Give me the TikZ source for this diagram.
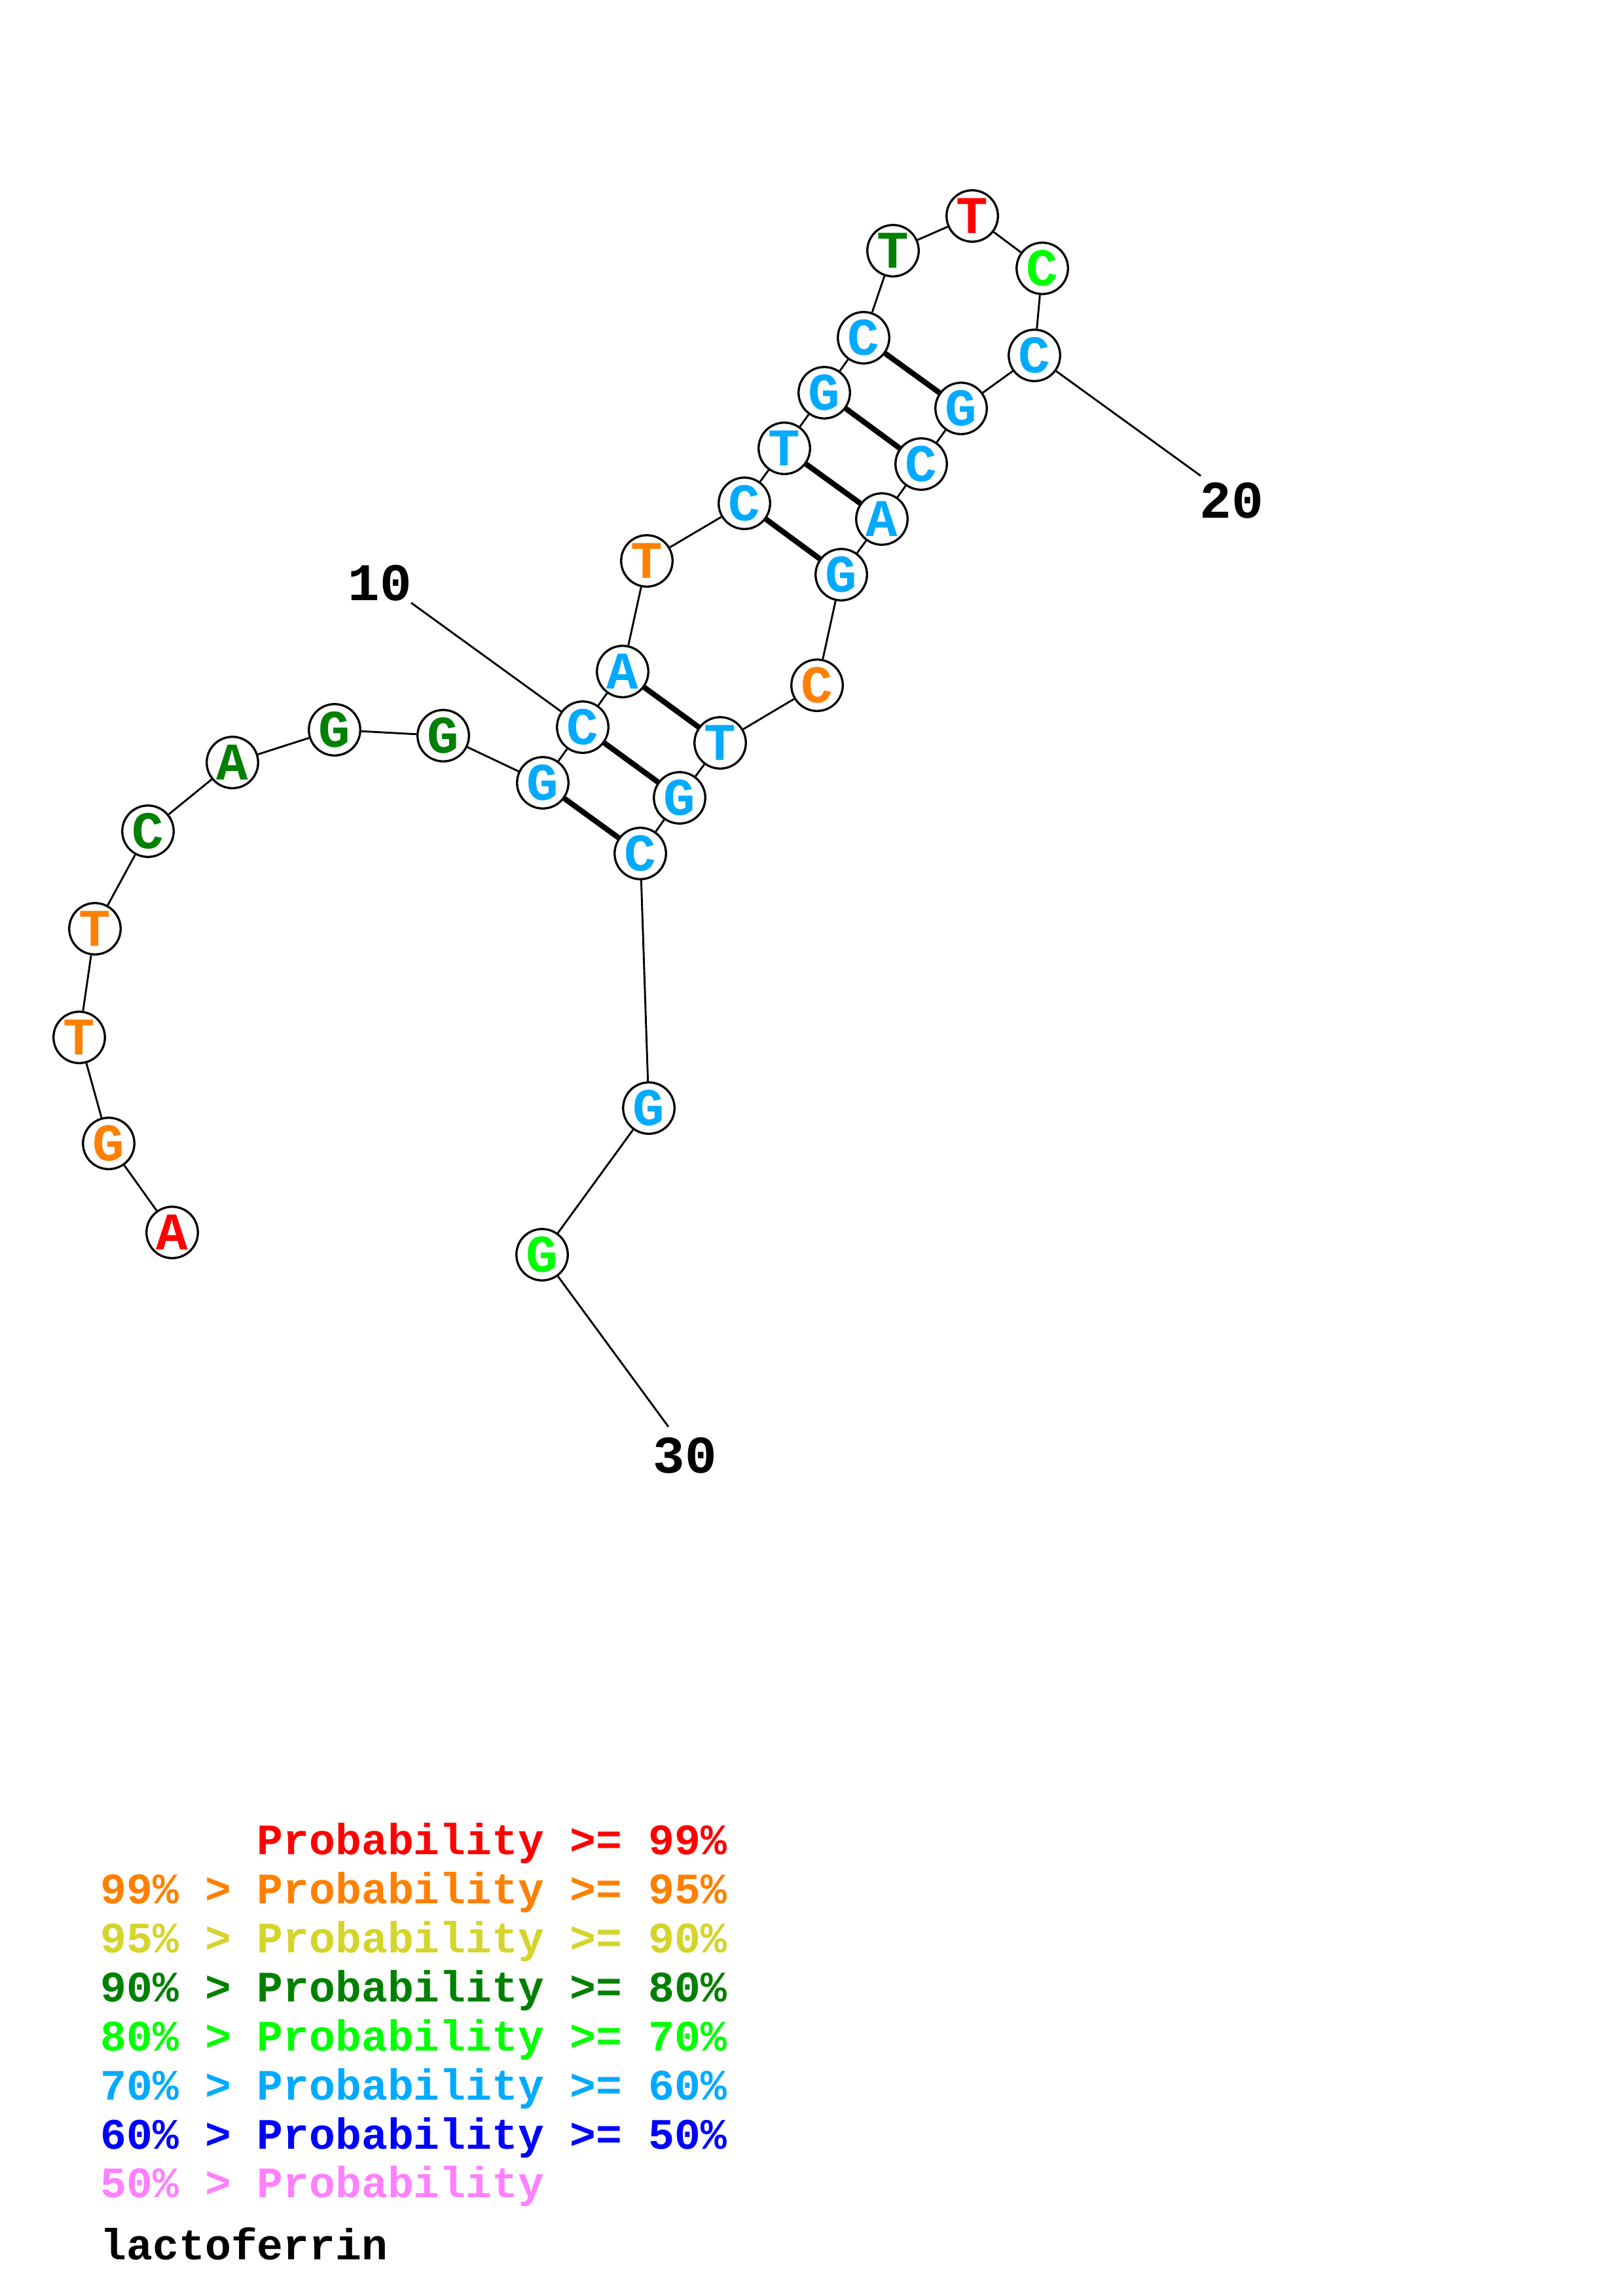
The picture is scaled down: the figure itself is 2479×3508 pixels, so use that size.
\documentclass[tikz,border=0pt]{standalone}
\usepackage{fontspec}
\newfontfamily\cour{Liberation Mono}[WordSpace={1,0,0}]
\definecolor{cred}{RGB}{255,0,0}
\definecolor{corange}{RGB}{255,128,0}
\definecolor{cyellow}{RGB}{212,212,42}
\definecolor{cdkgreen}{RGB}{0,128,0}
\definecolor{cgreen}{RGB}{0,255,0}
\definecolor{clblue}{RGB}{0,170,255}
\definecolor{cblue}{RGB}{0,0,255}
\definecolor{cpink}{RGB}{255,128,255}
\begin{document}
\begin{tikzpicture}[x=0.0847mm,y=-0.0847mm,
  base/.style={circle,draw=black,line width=0.8pt,fill=white,minimum size=6.65mm,inner sep=0pt,
    font=\cour\bfseries\fontsize{19.5}{20}\selectfont},
  bb/.style={line width=0.7pt,black},
  pairline/.style={line width=2pt,black},
  lab/.style={inner sep=0pt,font=\cour\bfseries\fontsize{19.5}{20}\selectfont},
  leg/.style={anchor=base west,inner sep=0pt,font=\cour\bfseries\fontsize{16}{17}\selectfont}]
\useasboundingbox (0,0) rectangle (2479,3508);
\fill[white] (0,0) rectangle (2479,3508);
% nucleotides
\foreach \n/\x/\y/\l/\c in {
  1/263/1883/A/cred, 2/166/1747/G/corange, 3/121/1585/T/corange, 4/145/1419/T/corange,
  5/226/1270/C/cdkgreen, 6/355/1165/A/cdkgreen, 7/511/1115/G/cdkgreen, 8/677/1124/G/cdkgreen,
  9/829/1196/G/clblue, 10/890/1111/C/clblue, 11/951/1026/A/clblue, 12/988/857/T/corange,
  13/1137/769/C/clblue, 14/1198/685/T/clblue, 15/1259/600/G/clblue, 16/1319/516/C/clblue,
  17/1364/383/T/cdkgreen, 18/1485/330/T/cred, 19/1592/410/C/cgreen, 20/1580/543/C/clblue,
  21/1468/624/G/clblue, 22/1407/709/C/clblue, 23/1347/793/A/clblue, 24/1285/878/G/clblue,
  25/1248/1047/C/corange, 26/1100/1135/T/clblue, 27/1038/1219/G/clblue, 28/978/1304/C/clblue,
  29/991/1693/G/clblue, 30/828/1917/G/cgreen}
  {\node[base,text=\c] (n\n) at (\x,\y) {\l};}
% backbone
\foreach \a in {1,...,29}{
  \pgfmathtruncatemacro\b{\a+1}
  \draw[bb] (n\a) -- (n\b);}
% base pairs
\foreach \a/\b in {16/21,15/22,14/23,13/24,11/26,10/27,9/28}
  \draw[pairline] (n\a) -- (n\b);
% position labels
\node[lab] (l10) at (580,891) {10};
\coordinate (e10) at (628,921);
\draw[bb] (e10) -- (n10);
\node[lab] (l20) at (1881,765) {20};
\coordinate (e20) at (1834,727);
\draw[bb] (n20) -- (e20);
\node[lab] (l30) at (1046,2224) {30};
\coordinate (e30) at (1021,2180);
\draw[bb] (n30) -- (e30);
% legend
\node[leg,text=cred] (r1) at (153,2833) {\phantom{99\% > }Probability >= 99\%};
\node[leg,text=corange] (r2) at (153,2908) {99\% > Probability >= 95\%};
\node[leg,text=cyellow] (r3) at (153,2983) {95\% > Probability >= 90\%};
\node[leg,text=cdkgreen] (r4) at (153,3058) {90\% > Probability >= 80\%};
\node[leg,text=cgreen] (r5) at (153,3133) {80\% > Probability >= 70\%};
\node[leg,text=clblue] (r6) at (153,3208) {70\% > Probability >= 60\%};
\node[leg,text=cblue] (r7) at (153,3283) {60\% > Probability >= 50\%};
\node[leg,text=cpink] (r8) at (153,3357) {50\% > Probability};
\node[leg,text=black] (title) at (153,3452) {lactoferrin};
\end{tikzpicture}
\end{document}
